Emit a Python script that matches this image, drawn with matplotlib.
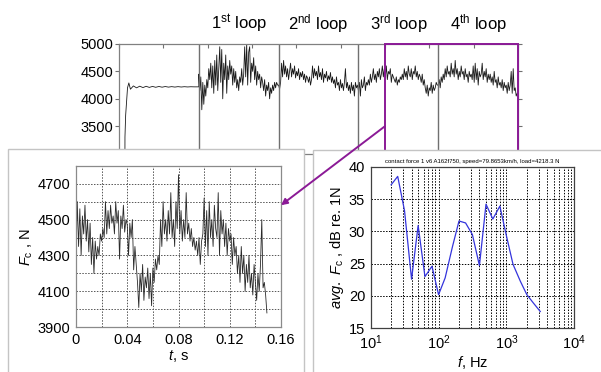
import numpy as np
import matplotlib
matplotlib.use("Agg")
import matplotlib.pyplot as plt
from matplotlib.patches import Rectangle, ConnectionPatch
from matplotlib.ticker import FixedLocator, NullFormatter

plt.rcParams['font.family'] = ['Liberation Sans', 'DejaVu Sans']
plt.rcParams['mathtext.fontset'] = 'custom'
plt.rcParams['mathtext.rm'] = 'Liberation Sans'
plt.rcParams['mathtext.it'] = 'Liberation Sans:italic'
plt.rcParams['mathtext.bf'] = 'Liberation Sans:bold'

# ---------------- data: top overview signal ----------------
steady_t = [0.0105, 0.0112, 0.0125, 0.0160, 0.0185, 0.0215, 0.027, 0.033, 0.039, 0.045,
            0.051, 0.057, 0.063, 0.069, 0.075, 0.081, 0.087, 0.093, 0.099, 0.105,
            0.111, 0.117, 0.123, 0.129, 0.135, 0.141, 0.147, 0.150]
steady_v = [0, 3300, 3700, 4200, 4290, 4175, 4235, 4200, 4230, 4205, 4228, 4208, 4226, 4210,
            4225, 4212, 4224, 4213, 4222, 4214, 4222, 4215, 4221, 4216, 4220, 4218, 4219, 4218]

loop1 = [4450, 4150, 4400, 3800, 4300, 3900, 4250,
         4050, 4350, 4200, 4550, 4350, 4650, 4200,
         4600, 4100, 4700, 4250, 4800, 4150, 4550,
         4950, 4300, 4900, 4000, 4650, 4350, 4800, 4100,
         4600, 4350, 4700, 4450, 4600, 4250, 4550, 4300, 4500, 4200, 4350,
         4150, 4400, 4300, 4550, 4250, 4450,
         4950, 4400, 5000, 4250, 4850, 4950, 4300, 4650, 4500, 4750, 4350, 4600, 4250,
         4500, 4350, 4450, 4200, 4400, 4300, 4150, 4350, 4050, 4250, 4150, 4300, 4000,
         4200, 4100, 4250, 4150, 4300,
         4200, 4300, 4250]
loop2 = [4250, 4180, 4300, 4650, 4400, 4700, 4450, 4600,
         4400, 4550, 4350, 4500, 4650, 4400, 4550, 4450, 4600, 4380, 4500, 4420, 4550, 4350,
         4480, 4400, 4500, 4350, 4450, 4300, 4420, 4380,
         4300, 4400, 4250, 4350,
         4600, 4380, 4550, 4420, 4500, 4350, 4600, 4400, 4480, 4350, 4550, 4300, 4450, 4380,
         4500, 4320, 4420, 4350, 4480, 4300, 4400,
         4280, 4350, 4200, 4400, 4250, 4300, 4150, 4350, 4200, 4280, 4150, 4300, 4550, 4200,
         4300, 4150, 4250, 4100, 4300,
         4150, 4250, 4050, 4300, 4200, 4250]
loop3 = [4150, 4300, 4050, 4350, 4200, 4250, 4400, 4150, 4300, 4250,
         4350, 4250, 4450, 4300, 4400, 4550, 4350, 4450, 4300, 4500, 4400, 4550, 4350, 4450,
         4600, 4400,
         4550, 4400, 4600, 4350, 4500, 4450, 4550, 4300, 4450, 4400, 4350,
         4300, 4400, 4250, 4350, 4300, 4400, 4350,
         4450, 4350, 4550, 4400, 4500, 4350, 4600, 4450, 4400, 4550, 4350, 4500, 4450, 4600,
         4400, 4500, 4350, 4450, 4400, 4300, 4450, 4250, 4350,
         4200, 4100, 4250, 4050, 4200, 4150, 4300, 4100, 4250, 4150, 4200, 4300, 4250]
loop4 = [4250, 4350, 4200, 4400, 4300,
         4450, 4350, 4550, 4400, 4600, 4450, 4500, 4400, 4650, 4450, 4550, 4400,
         4700, 4450, 4550, 4350, 4500, 4400, 4600, 4450, 4500, 4350, 4550, 4400, 4450, 4300,
         4500, 4400, 4450,
         4350, 4600, 4300, 4650, 4350, 4550, 4250, 4500, 4400, 4450,
         4650, 4350, 4500, 4400, 4550, 4300, 4450,
         4350, 4450, 4300, 4400, 4250, 4500, 4300, 4350, 4200, 4400, 4250, 4300, 4200,
         4350, 4150, 4300, 4200, 4250, 4100, 4300, 4150, 4250, 4500, 4100, 4550, 4150, 4200,
         4050, 4100]
loop_bounds = [0.15, 0.30, 0.45, 0.60, 0.75]
loop_names = ["1$^{\\mathrm{st}}$ loop", "2$^{\\mathrm{nd}}$ loop",
              "3$^{\\mathrm{rd}}$ loop", "4$^{\\mathrm{th}}$ loop"]
zoom_window = (0.5, 0.75)
top_yticks = [3500, 4000, 4500, 5000]

# ---------------- data: zoomed time signal ----------------
inset_v = [4280, 4600, 4350, 4560, 4300, 4520, 4420, 4580, 4380, 4500,
           4320, 4480, 4250, 4400, 4200, 4380, 4280, 4350, 4300, 4420,
           4380, 4450, 4400, 4600, 4420, 4550, 4450, 4580, 4480, 4520,
           4420, 4600, 4480, 4550, 4280, 4520, 4450, 4580, 4430, 4500,
           4470, 4300, 4480, 4400, 4500, 4220, 4350, 4250, 4150, 4010,
           4200, 4100, 4250, 4050, 4180, 4120, 4230, 4060, 4200, 4020,
           4230, 4150, 4280, 4220, 4300, 4250, 4500, 4350, 4600, 4420,
           4500, 4380, 4550, 4420, 4650, 4400, 4500, 4350, 4600, 4450,
           4750, 4420, 4550, 4380, 4500, 4400, 4650, 4420, 4480, 4380,
           4450, 4350, 4400, 4330, 4380, 4300, 4400, 4250, 4380, 4420,
           4620, 4350, 4550, 4300, 4600, 4400, 4500, 4350, 4580, 4450,
           4400, 4650, 4300, 4550, 4420, 4500, 4350, 4480, 4300, 4450,
           4380, 4420, 4250, 4400, 4300, 4350, 4200, 4300, 4150, 4350,
           4200, 4300, 4100, 4250, 4150, 4300, 4120, 4200, 4080, 4250,
           4150, 4050, 4200, 4100, 4250, 4500, 4120, 4150, 4080, 3980]
inset_dt = 0.001
inset_xticks = [0, 0.04, 0.08, 0.12, 0.16]
inset_xticklabels = ["0", "0.04", "0.08", "0.12", "0.16"]
inset_yticks = [3900, 4100, 4300, 4500, 4700]

# ---------------- data: spectrum ----------------
freq = [20, 25, 31.5, 40, 50, 63, 80, 100, 125, 160, 200, 250, 315, 400, 500, 630,
        800, 1000, 1250, 1600, 2000, 2500, 3150]
level_db = [37.2, 38.5, 33.2, 22.6, 30.9, 23.0, 24.6, 20.2, 22.8, 27.6, 31.6, 31.3, 29.5,
            24.7, 34.2, 31.9, 33.9, 29.3, 24.9, 22.3, 20.2, 18.9, 17.6]
spec_title = "contact force 1 v6 A162f750, speed=79.8653km/h, load=4218.3 N"

# ---------------- figure ----------------
W, H = 601, 372
fig = plt.figure(figsize=(W / 100, H / 100), dpi=100)
purple = '#8b1a96'

def fx(px):
    return px / W

def fy(py):
    return 1 - py / H

# top axes
ax_top = fig.add_axes([fx(119), fy(153.6), fx(399), 109.6 / H], zorder=0)
t_all = list(steady_t)
v_all = list(steady_v)
for k, lp in enumerate([loop1, loop2, loop3, loop4]):
    a, b = loop_bounds[k], loop_bounds[k + 1]
    tt = np.linspace(a, b - 0.0015 if k == 3 else b, len(lp), endpoint=(k == 3))
    t_all.extend(tt.tolist())
    v_all.extend(lp)
ax_top.plot(t_all, v_all, color='#1a1a1a', lw=0.6)
for xb in loop_bounds[:-1]:
    ax_top.axvline(xb, color='#707070', lw=1.0)
ax_top.set_xlim(0, 0.75)
ax_top.set_ylim(3000, 5000)
ax_top.set_yticks(top_yticks)
ax_top.set_xticks(np.linspace(0, 0.75, 10))
ax_top.xaxis.set_major_formatter(NullFormatter())
ax_top.tick_params(axis='y', labelsize=10.5, direction='out', length=3, color='#707070', pad=1)
ax_top.tick_params(axis='x', direction='in', length=3, color='#707070', top=True, bottom=False)
ax_top.tick_params(axis='y', which='major', right=True)
for s in ax_top.spines.values():
    s.set_color('#808080')
    s.set_linewidth(0.9)
ax_top.add_patch(Rectangle((zoom_window[0], 3000), zoom_window[1] - zoom_window[0], 2000,
                           fill=False, edgecolor=purple, lw=1.4, clip_on=False, zorder=5))
for k, name in enumerate(loop_names):
    xc = 0.5 * (loop_bounds[k] + loop_bounds[k + 1])
    ax_top.text(xc, 5270, name, ha='center', va='baseline', fontsize=12, clip_on=False)

# white panels
fig.add_artist(Rectangle((fx(8), -0.1), fx(304 - 8), fy(149) + 0.1, transform=fig.transFigure,
                         facecolor='white', edgecolor='#c4c4c4', lw=1.0, zorder=1))
fig.add_artist(Rectangle((fx(313), -0.1), fx(W - 313) + 0.05, fy(150) + 0.1, transform=fig.transFigure,
                         facecolor='white', edgecolor='#c4c4c4', lw=1.0, zorder=1))

# left inset
ax_l = fig.add_axes([fx(76), fy(327.3), fx(205), 161.6 / H], zorder=2)
tl = np.arange(len(inset_v)) * inset_dt
ax_l.plot(tl, inset_v, color='#2a2a2a', lw=0.6)
ax_l.set_xlim(0, 0.16)
ax_l.set_ylim(3900, 4800)
ax_l.set_xticks(inset_xticks)
ax_l.set_xticklabels(inset_xticklabels)
ax_l.xaxis.set_minor_locator(FixedLocator([0.02, 0.06, 0.10, 0.14]))
ax_l.set_yticks(inset_yticks)
ax_l.yaxis.set_minor_locator(FixedLocator([4000, 4200, 4400, 4600]))
ax_l.grid(True, which='both', color='#555555', linestyle=(0, (1.5, 1.5)), lw=0.7)
ax_l.tick_params(which='both', direction='in', length=0, labelsize=10.5, pad=4)
for s in ax_l.spines.values():
    s.set_color('#8a8a8a')
    s.set_linewidth(0.9)
ax_l.set_xlabel('$t$, s', fontsize=10.5, labelpad=1)
ax_l.set_ylabel('$F_{\\mathrm{c}}$ , N', fontsize=10.5, labelpad=2)

# right inset
ax_r = fig.add_axes([fx(370.7), fy(328.3), fx(203.6), 161.6 / H], zorder=2)
ax_r.semilogx(freq, level_db, color='#3434dc', lw=0.9)
ax_r.set_xlim(10, 1e4)
ax_r.set_ylim(15, 40)
ax_r.set_yticks([15, 20, 25, 30, 35, 40])
ax_r.grid(True, which='both', color='black', linestyle=(0, (1.5, 1.5)), lw=0.7)
ax_r.tick_params(which='both', direction='in', length=0, labelsize=10.5, pad=4)
for s in ax_r.spines.values():
    s.set_color('#404040')
    s.set_linewidth(0.9)
ax_r.set_title(spec_title, fontsize=4.3, pad=3)
ax_r.set_xlabel('$f$, Hz', fontsize=10.5, labelpad=1)
ax_r.set_ylabel('$avg.\\ F_{\\mathrm{c}}$ , dB re. 1N', fontsize=10.5, labelpad=2)

# arrow from zoom box to inset
con = ConnectionPatch(xyA=(zoom_window[0], 3500), coordsA=ax_top.transData,
                      xyB=(0.16, 4580), coordsB=ax_l.transData,
                      arrowstyle='-|>', mutation_scale=9, color=purple, lw=1.4, zorder=6)
fig.add_artist(con)

fig.savefig('out.png', dpi=100)
